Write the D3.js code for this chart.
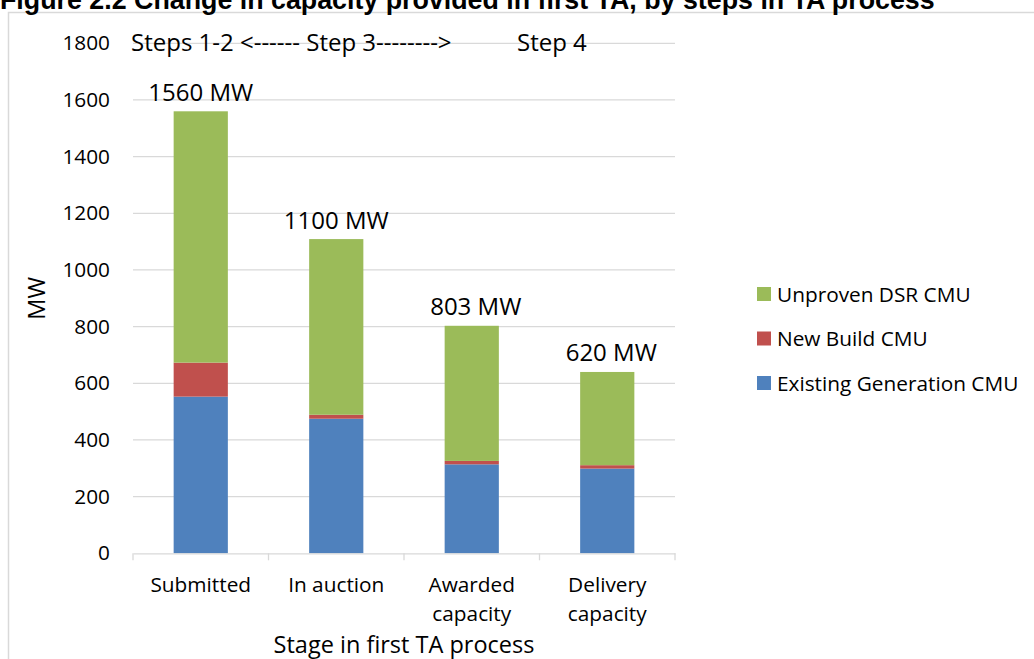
<!DOCTYPE html>
<html><head><meta charset="utf-8">
<script src="https://cdn.jsdelivr.net/npm/d3@7"></script>
<style>
body{margin:0;background:#fff;}
svg{display:block;}
text{font-family:"Open Sans",sans-serif;fill:#000;}
</style></head>
<body>
<svg id="chart" width="1034" height="659"></svg>
<script>
const categories = [["Submitted"], ["In auction"], ["Awarded", "capacity"], ["Delivery", "capacity"]];
const seriesNames = ["Existing Generation CMU", "New Build CMU", "Unproven DSR CMU"];
const existing = [553, 475, 314, 299];
const newBuild = [120, 14, 12, 12];
const dsr = [887, 620, 477, 329];
const totalLabels = ["1560 MW", "1100 MW", "803 MW", "620 MW"];
const yTicks = [0, 200, 400, 600, 800, 1000, 1200, 1400, 1600, 1800];
const colors = ["#4f81bd", "#c0504d", "#9bbb59"];
const titleText = "Figure 2.2 Change in capacity provided in first TA, by steps in TA process";
const stepsText = "Steps 1-2 <------ Step 3-------->";
const step4Text = "Step 4";

const svg = d3.select("#chart");
const FS = 20.8;      // tick / category / legend
const FL = 24;        // value labels, step annotation
const FT = 23.5;      // axis titles
const m = {left:133, right:675, top:43.3, bottom:553.3};

// frame
svg.append("rect").attr("x",8.5).attr("y",12.5).attr("width",1040).attr("height",660)
  .attr("fill","none").attr("stroke","#d9d9d9").attr("stroke-width",1.5);

// title
svg.append("text").attr("x",0).attr("y",9).text(titleText)
  .style("font-family","'Liberation Sans',Arial,sans-serif").style("font-weight","bold").style("font-size","26.8px");

const x = d3.scaleBand().domain(d3.range(categories.length)).range([m.left,m.right]).paddingInner(0.6).paddingOuter(0.3);
const xb = d3.scaleBand().domain(d3.range(categories.length)).range([m.left,m.right]);
const y = d3.scaleLinear().domain([0,1800]).range([m.bottom,m.top]);

// gridlines
svg.append("g").selectAll("line").data(yTicks.filter(t=>t>0)).join("line")
  .attr("x1",m.left).attr("x2",m.right).attr("y1",d=>y(d)).attr("y2",d=>y(d))
  .attr("stroke","#d9d9d9").attr("stroke-width",1.3);

// y axis labels
const yAxis = d3.axisLeft(y).tickValues(yTicks).tickSize(0).tickPadding(23).tickFormat(d3.format("d"));
const gy = svg.append("g").attr("transform",`translate(${m.left},0)`).call(yAxis);
gy.select(".domain").remove();
gy.selectAll("text").style("font-family","'Open Sans',sans-serif").style("font-size",FS+"px").attr("fill","#000");

// stacked data
const rows = categories.map((c,i)=>({i, existing:existing[i], newBuild:newBuild[i], dsr:dsr[i]}));
const stack = d3.stack().keys(["existing","newBuild","dsr"]);
const layers = stack(rows);
svg.append("g").selectAll("g").data(layers).join("g").attr("fill",(d,i)=>colors[i])
  .selectAll("rect").data(d=>d).join("rect")
  .attr("x",d=>x(d.data.i)).attr("width",x.bandwidth())
  .attr("y",d=>y(d[1])).attr("height",d=>y(d[0])-y(d[1]));

// x axis
const xAxis = d3.axisBottom(xb).tickSize(0).tickFormat("");
const gx = svg.append("g").attr("transform",`translate(0,${m.bottom})`).call(xAxis);
gx.select(".domain").attr("stroke","#d9d9d9").attr("stroke-width",1.3);
const bounds = xb.domain().map(d=>xb(d)).concat([m.right]);
svg.append("g").selectAll("line").data(bounds).join("line")
  .attr("x1",d=>d).attr("x2",d=>d).attr("y1",m.bottom).attr("y2",m.bottom+7)
  .attr("stroke","#d9d9d9").attr("stroke-width",1.3);

// category labels
const cl = svg.append("g").selectAll("text").data(categories).join("text")
  .attr("text-anchor","middle").style("font-size",FS+"px");
cl.each(function(lines,i){
  const t=d3.select(this);
  lines.forEach((ln,j)=>t.append("tspan").attr("x",xb(i)+xb.bandwidth()/2).attr("y",592+j*28.5).text(ln));
});

// total labels
svg.append("g").selectAll("text").data(rows).join("text")
  .attr("text-anchor","middle").style("font-size",FL+"px")
  .attr("x",d=>x(d.i)+x.bandwidth()/2+(d.i>=2?4:0))
  .attr("y",d=>y(d.existing+d.newBuild+d.dsr)-10.5)
  .text((d,i)=>totalLabels[i]);

// step annotation
svg.append("text").attr("x",131).attr("y",51).style("font-size",FL+"px").text(stepsText);
svg.append("text").attr("x",517).attr("y",51).style("font-size",FL+"px").text(step4Text);

// axis titles
svg.append("text").attr("text-anchor","middle").attr("x",(m.left+m.right)/2).attr("y",653)
  .style("font-size",FT+"px").text("Stage in first TA process");
svg.append("text").attr("text-anchor","middle").attr("transform",`translate(45,${(m.top+m.bottom)/2}) rotate(-90)`)
  .style("font-size",FT+"px").text("MW");

// legend
const legendOrder = [2,1,0];
const lg = svg.append("g").selectAll("g").data(legendOrder).join("g")
  .attr("transform",(d,k)=>`translate(757,${294+k*44.5})`);
lg.append("rect").attr("x",0).attr("y",-7).attr("width",14).attr("height",14).attr("fill",d=>colors[d]);
lg.append("text").attr("x",20).attr("y",7.5).style("font-size",FS+"px").text(d=>seriesNames[d]);
</script>
</body></html>
